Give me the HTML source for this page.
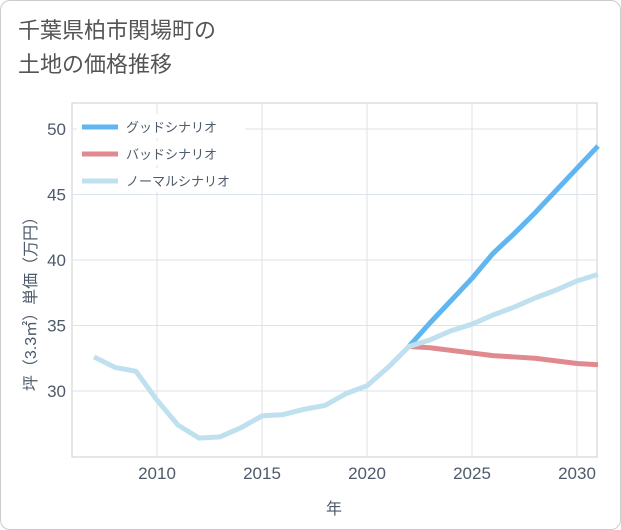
<!DOCTYPE html>
<html><head><meta charset="utf-8">
<style>
body{margin:0;background:#fff;}
.card{position:absolute;left:0;top:0;width:619px;height:528px;border:1px solid #ccc;border-radius:10px;background:#fff;}
.title{position:absolute;left:18px;top:14px;font:22px "Liberation Sans","Noto Sans CJK JP",sans-serif;color:#555;line-height:34px;}
svg{position:absolute;left:0;top:0;}
text{font-family:"Liberation Sans","Noto Sans CJK JP",sans-serif;}
</style></head><body>
<div class="card"></div>
<div class="title">千葉県柏市関場町の<br>土地の価格推移</div>
<svg id="c" width="621" height="530"></svg>
<script>
const years=[2007,2008,2009,2010,2011,2012,2013,2014,2015,2016,2017,2018,2019,2020,2021,2022,2023,2024,2025,2026,2027,2028,2029,2030,2031];
const normal=[32.6,31.8,31.5,29.3,27.4,26.4,26.5,27.2,28.1,28.2,28.6,28.9,29.8,30.4,31.8,33.4,33.9,34.6,35.1,35.8,36.4,37.1,37.7,38.4,38.9];
const goodYears=[2022,2023,2024,2025,2026,2027,2028,2029,2030,2031];
const good=[33.4,35.2,36.9,38.6,40.5,42.0,43.6,45.3,47.0,48.7];
const bad=[33.4,33.3,33.1,32.9,32.7,32.6,32.5,32.3,32.1,32.0];
const xTicks=[2010,2015,2020,2025,2030];
const yTicks=[30,35,40,45,50];
const L=72,R=597,T=103,B=457;
const TC='#4d5a6b';
const x=v=>157+(v-2010)*21;
const y=v=>391-(v-30)*13.1;
const s=document.getElementById('c');const NS='http://www.w3.org/2000/svg';
function el(t,a,p){const e=document.createElementNS(NS,t);for(const k in a)e.setAttribute(k,a[k]);(p||s).appendChild(e);return e;}
let r=el('rect',{x:L,y:T,width:R-L,height:B-T,fill:'#fff',stroke:'#ccc'});


xTicks.forEach(v=>{let g=el('line',{x1:x(v),x2:x(v),y1:T,y2:B,stroke:'#dde3ea'});


let t=el('text',{x:x(v),y:479,'text-anchor':'middle','font-size':17,fill:TC});t.textContent=v;

});
yTicks.forEach(v=>{let g=el('line',{x1:L,x2:R,y1:y(v),y2:y(v),stroke:'#dde3ea'});


let t=el('text',{x:66,y:y(v)+6,'text-anchor':'end','font-size':17,fill:TC});t.textContent=v;

});
let xt=el('text',{x:334,y:514,'text-anchor':'middle','font-size':16,fill:TC});xt.textContent='年';


let yt=el('text',{x:0,y:0,'text-anchor':'middle','font-size':16,fill:TC,transform:'translate(36,300) rotate(-90)'});yt.textContent='坪（3.3㎡）単価（万円）';


function line(xs,vs,col,name){let p=el('polyline',{points:xs.map((v,i)=>x(v)+','+y(vs[i])).join(' '),fill:'none',stroke:col,'stroke-width':5,'stroke-linejoin':'round'});

}
line(goodYears,bad,'#e08a8f','bad-scenario-line');
line(goodYears,good,'#5fb6f0','good-scenario-line');
line(years,normal,'#bfe0ee','normal-scenario-line');
const leg=[['グッドシナリオ','#5fb6f0'],['バッドシナリオ','#e08a8f'],['ノーマルシナリオ','#bfe0ee']];
leg.forEach((d,i)=>{let yy=127+i*27;
el('rect',{x:77,y:yy-13,width:168,height:24,fill:'#fff'});
let l=el('line',{x1:82,x2:118,y1:yy,y2:yy,stroke:d[1],'stroke-width':5});


let t=el('text',{x:126,y:yy+5,'font-size':13,fill:TC});t.textContent=d[0];

});
</script>
</body></html>
